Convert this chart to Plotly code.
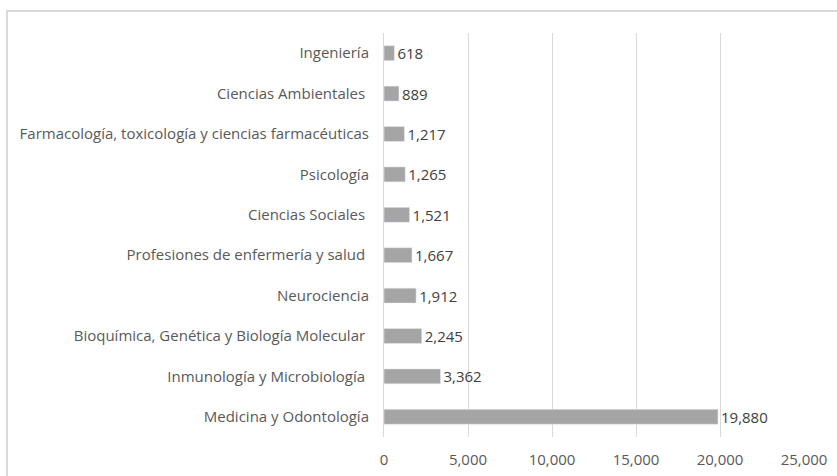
import plotly.graph_objects as go

# areas, top to bottom as in the chart
areas = ["Ingeniería", "Ciencias Ambientales ", "Farmacología, toxicología y ciencias farmacéuticas",
         "Psicología", "Ciencias Sociales ", "Profesiones de enfermería y salud ",
         "Neurociencia", "Bioquímica, Genética y Biología Molecular ",
         "Inmunología y Microbiología ", "Medicina y Odontología"]
counts = [618, 889, 1217, 1265, 1521, 1667, 1912, 2245, 3362, 19880]
x_ticks = [0, 5000, 10000, 15000, 20000, 25000]

fnt = dict(family="Open Sans, sans-serif", size=15, color="#595959")

fig = go.Figure(go.Bar(
    x=counts, y=areas, orientation="h",
    marker=dict(color="#a5a5a5"),
    text=[f"{v:,}" for v in counts], textposition="outside",
    constraintext="none",
    textfont=dict(family=fnt["family"], size=15, color="#404040"),
    cliponaxis=False,
))

fig.update_layout(
    width=837, height=476,
    margin=dict(l=384, r=33, t=33, b=39, autoexpand=False),
    paper_bgcolor="white", plot_bgcolor="rgba(0,0,0,0)",
    font=fnt, bargap=0.63, showlegend=False,
    shapes=[dict(type="rect", xref="paper", yref="paper",
                 x0=(7 - 384) / 420, x1=1.2, y0=-0.3, y1=1 + 22 / 404,
                 line=dict(color="#d9d9d9", width=2), layer="below")],
)
fig.update_xaxes(range=[0, 25000], tickvals=x_ticks, tickformat=",", automargin=False,
                 showgrid=True, gridcolor="#d9d9d9", gridwidth=1,
                 zeroline=False, showline=False, ticks="", ticklabelstandoff=12)
fig.update_yaxes(categoryorder="array", categoryarray=areas[::-1], automargin=False,
                 showgrid=False, zeroline=False, showline=True, linecolor="#d9d9d9",
                 ticks="", ticklabelstandoff=11)

# drop the browser's default 8px body margin so the figure sits at the page corner
fig.write_html("out.html", config={"displayModeBar": False},
               post_script="document.body.style.margin='0px';")
